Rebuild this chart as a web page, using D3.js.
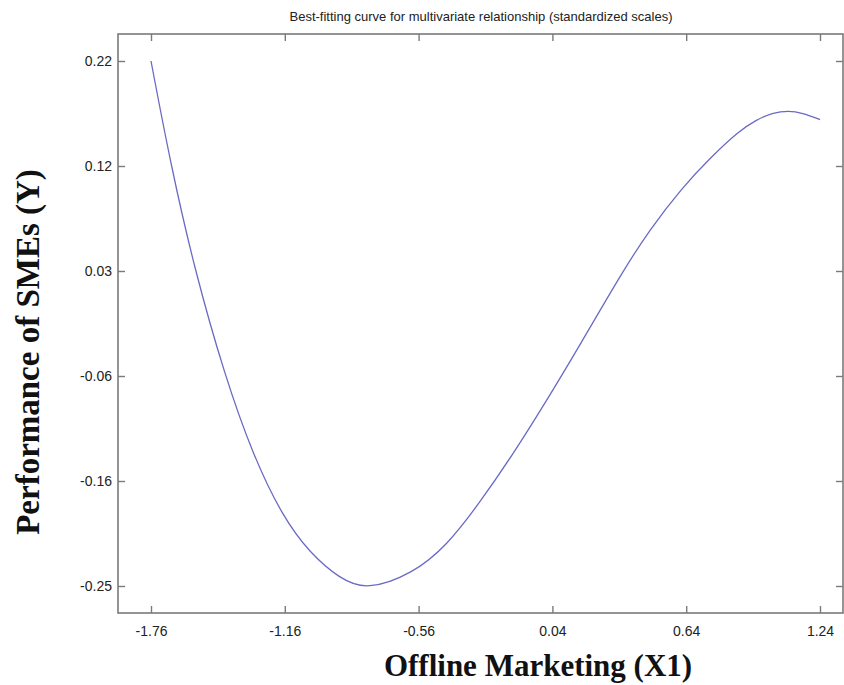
<!DOCTYPE html>
<head>
	<meta charset="utf-8">
	<script src="https://d3js.org/d3.v7.min.js"></script>
	<style>
		body { margin: 0; background: #fff; }
		svg { display: block; }
	</style>
</head>
<body>
<svg width="844" height="685"></svg>
<script>
	// values (standardized scales)
	var xVals = [-1.76, -1.6704, -1.563, -1.4286, -1.3032, -1.1689, -1.048, -0.9137, -0.7928,
		-0.5869, -0.4346, -0.2869, -0.1391, 0.0131, 0.1609, 0.3534, 0.4743, 0.6221, 0.7564,
		0.8773, 0.9534, 1.0251, 1.1012, 1.1594, 1.24];
	var yVals = [0.219, 0.1248, 0.0306, -0.0636, -0.1345, -0.1901, -0.2224, -0.2455, -0.2560,
		-0.2410, -0.2161, -0.1776, -0.1345, -0.0860, -0.0367, 0.0297, 0.0672, 0.1056, 0.1338,
		0.1562, 0.1661, 0.1725, 0.1745, 0.1725, 0.1665];
	var xTicks = [-1.76, -1.16, -0.56, 0.04, 0.64, 1.24];
	var yTicks = [-0.252, -0.1578, -0.0636, 0.0306, 0.1248, 0.219];

	var titleText = 'Best-fitting curve for multivariate relationship (standardized scales)';
	var xLabel = 'Offline Marketing (X1)';
	var yLabel = 'Performance of SMEs (Y)';

	var box = {left: 118, right: 843, top: 34, bottom: 613};
	var svg = d3.select('svg');

	var x = d3.scaleLinear().domain([-1.76, 1.24]).range([151, 820]);
	var y = d3.scaleLinear().domain([-0.252, 0.219]).range([586, 61]);

	var axisColor = '#7a7a7a';

	/* --------- BOX ---------*/
	svg.append('rect')
		.attr('x', box.left)
		.attr('y', box.top)
		.attr('width', box.right - box.left)
		.attr('height', box.bottom - box.top)
		.attr('fill', 'none')
		.attr('stroke', axisColor)
		.attr('stroke-width', 1.6);

	/* --------- AXES (ticks inward) ---------*/
	var fmt = function (d) { return d.toFixed(2); };

	var xAxis = svg.append('g')
		.attr('transform', 'translate(0,' + box.bottom + ')')
		.call(d3.axisBottom(x).tickValues(xTicks).tickFormat(fmt).tickSizeInner(-7).tickSizeOuter(0).tickPadding(13));
	var xTop = svg.append('g')
		.attr('transform', 'translate(0,' + box.top + ')')
		.call(d3.axisTop(x).tickValues(xTicks).tickFormat('').tickSizeInner(-7).tickSizeOuter(0));
	var yAxis = svg.append('g')
		.attr('transform', 'translate(' + box.left + ',0)')
		.call(d3.axisLeft(y).tickValues(yTicks).tickFormat(fmt).tickSizeInner(-7).tickSizeOuter(0).tickPadding(6));
	var yRight = svg.append('g')
		.attr('transform', 'translate(' + box.right + ',0)')
		.call(d3.axisRight(y).tickValues(yTicks).tickFormat('').tickSizeInner(-7).tickSizeOuter(0));

	[xAxis, xTop, yAxis, yRight].forEach(function (g) {
		g.select('.domain').remove();
		g.selectAll('.tick line').attr('stroke', axisColor).attr('stroke-width', 1.4);
		g.selectAll('.tick text')
			.attr('fill', '#222')
			.attr('font-family', 'Liberation Sans, Arial, sans-serif')
			.attr('font-size', 14);
	});

	/* --------- CURVE ---------*/
	var pts = xVals.map(function (d, i) { return [d, yVals[i]]; });
	var line = d3.line()
		.x(function (d) { return x(d[0]); })
		.y(function (d) { return y(d[1]); })
		.curve(d3.curveBasis);

	svg.append('path')
		.datum(pts)
		.attr('d', line)
		.attr('fill', 'none')
		.attr('stroke', '#6a6ac6')
		.attr('stroke-width', 1.3);

	/* --------- TEXT ---------*/
	svg.append('text')
		.attr('x', 481)
		.attr('y', 21)
		.attr('text-anchor', 'middle')
		.attr('font-family', 'Liberation Sans, Arial, sans-serif')
		.attr('font-size', 13)
		.attr('fill', '#222')
		.text(titleText);

	svg.append('text')
		.attr('x', 538)
		.attr('y', 676)
		.attr('text-anchor', 'middle')
		.attr('font-family', 'Liberation Serif, Times New Roman, serif')
		.attr('font-weight', 'bold')
		.attr('font-size', 31)
		.attr('fill', '#111')
		.text(xLabel);

	svg.append('text')
		.attr('transform', 'translate(39,352) rotate(-90)')
		.attr('text-anchor', 'middle')
		.attr('font-family', 'Liberation Serif, Times New Roman, serif')
		.attr('font-weight', 'bold')
		.attr('font-size', 33)
		.attr('fill', '#111')
		.text(yLabel);
</script>
</body>
